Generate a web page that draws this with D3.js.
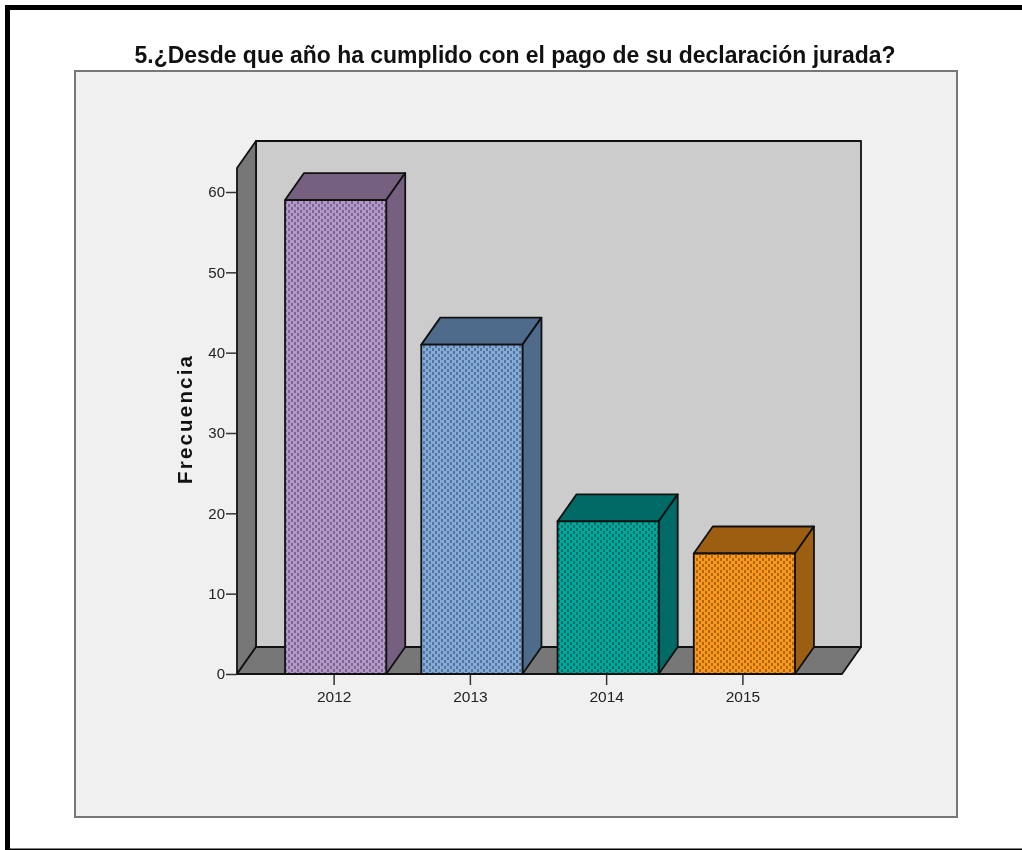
<!DOCTYPE html>
<html>
<head>
<meta charset="utf-8">
<script src="https://cdn.jsdelivr.net/npm/d3@7"></script>
<style>
  html, body { margin: 0; padding: 0; background: #fff; }
  svg { display: block; filter: blur(0.4px); }
  text { font-family: "Liberation Sans", Arial, sans-serif; }
</style>
</head>
<body>
<div id="chart"></div>
<script>
const titleText = '5.¿Desde que año ha cumplido con el pago de su declaración jurada?';
const yLabel = 'Frecuencia';
const years = ['2012', '2013', '2014', '2015'];
const counts = [59, 41, 19, 15];
const yTicks = [0, 10, 20, 30, 40, 50, 60];
const frontColors = ['#b598cb', '#82abdc', '#00a79c', '#fb981c'];
const sideColors = ['#75607f', '#4f6b8c', '#006a66', '#9c5f12'];

const width = 1022;
const height = 850;
const depthX = 19;
const depthY = -27;

const svg = d3.select('#chart').append('svg')
  .attr('width', width)
  .attr('height', height);

// dotted fill on the bar fronts
const defs = svg.append('defs');
frontColors.forEach((c, i) => {
  const p = defs.append('pattern')
    .attr('id', 'dots' + i)
    .attr('patternUnits', 'userSpaceOnUse')
    .attr('width', 6)
    .attr('height', 6);
  p.append('rect').attr('width', 6).attr('height', 6).attr('fill', c);
  const dark = d3.color(c).darker(1.1).formatHex();
  p.append('rect').attr('x', 0).attr('y', 0).attr('width', 2).attr('height', 3).attr('fill', dark);
  p.append('rect').attr('x', 3).attr('y', 3).attr('width', 2).attr('height', 3).attr('fill', dark);
});

// page frame
svg.append('path')
  .attr('d', `M7.5,${height} V7.5 H${width}`)
  .attr('fill', 'none')
  .attr('stroke', '#000')
  .attr('stroke-width', 5);
svg.append('line')
  .attr('x1', 5).attr('x2', width)
  .attr('y1', 849.5).attr('y2', 849.5)
  .attr('stroke', '#000')
  .attr('stroke-width', 2);

// chart panel
svg.append('rect')
  .attr('x', 75).attr('y', 71)
  .attr('width', 882).attr('height', 746)
  .attr('fill', '#f0f0f0')
  .attr('stroke', '#777')
  .attr('stroke-width', 2);

svg.append('text')
  .attr('x', 515).attr('y', 63)
  .attr('text-anchor', 'middle')
  .attr('font-size', 24)
  .attr('font-weight', 'bold')
  .attr('textLength', 761)
  .attr('lengthAdjust', 'spacingAndGlyphs')
  .attr('fill', '#111')
  .text(titleText);

const y = d3.scaleLinear().domain([0, 60]).range([674, 192]);
const x = d3.scaleBand()
  .domain(years)
  .range([267.5, 812.5])
  .paddingInner(35 / 136)
  .paddingOuter(17.5 / 136);

const left = 237;
const right = 842;
const base = y(0);
const wallTop = 168;
const edge = '#111';

// 3d box: back wall, left wall, floor
const box = svg.append('g').attr('stroke', edge).attr('stroke-width', 1.8).attr('stroke-linejoin', 'round');
box.append('rect')
  .attr('x', left + depthX).attr('y', wallTop + depthY)
  .attr('width', right - left).attr('height', base - wallTop)
  .attr('fill', '#cccccc');
box.append('path')
  .attr('d', `M${left},${base} V${wallTop} L${left + depthX},${wallTop + depthY} V${base + depthY} Z`)
  .attr('fill', '#777777');
box.append('path')
  .attr('d', `M${left},${base} L${left + depthX},${base + depthY} H${right + depthX} L${right},${base} Z`)
  .attr('fill', '#777777');

// bars
const bars = svg.selectAll('g.bar')
  .data(years.map((year, i) => ({ year, count: counts[i], i })))
  .join('g')
  .attr('class', 'bar')
  .attr('stroke', edge)
  .attr('stroke-width', 1.8)
  .attr('stroke-linejoin', 'round');

bars.append('path')
  .attr('d', d => {
    const x0 = x(d.year), x1 = x0 + x.bandwidth(), t = y(d.count);
    return `M${x0},${t} L${x0 + depthX},${t + depthY} H${x1 + depthX} L${x1},${t} Z`;
  })
  .attr('fill', d => sideColors[d.i]);
bars.append('path')
  .attr('d', d => {
    const x1 = x(d.year) + x.bandwidth(), t = y(d.count);
    return `M${x1},${t} L${x1 + depthX},${t + depthY} V${base + depthY} L${x1},${base} Z`;
  })
  .attr('fill', d => sideColors[d.i]);
bars.append('rect')
  .attr('x', d => x(d.year))
  .attr('y', d => y(d.count))
  .attr('width', x.bandwidth())
  .attr('height', d => base - y(d.count))
  .attr('fill', d => `url(#dots${d.i})`);

// axes
const yAxis = d3.axisLeft(y).tickValues(yTicks).tickSize(11).tickPadding(1);
const gy = svg.append('g').attr('transform', `translate(${left},0)`).call(yAxis);
gy.select('.domain').remove();
gy.selectAll('line').attr('stroke', '#333').attr('stroke-width', 1.5);
gy.selectAll('text').attr('font-size', 15).attr('fill', '#222');

const xAxis = d3.axisBottom(x).tickSize(11).tickPadding(6);
const gx = svg.append('g').attr('transform', `translate(-1.5,${base})`).call(xAxis);
gx.select('.domain').remove();
gx.selectAll('line').attr('stroke', '#333').attr('stroke-width', 1.5);
gx.selectAll('text').attr('font-size', 15.5).attr('fill', '#222');

// baseline on top of the bars
svg.append('line')
  .attr('x1', left).attr('x2', right)
  .attr('y1', base).attr('y2', base)
  .attr('stroke', edge)
  .attr('stroke-width', 2);

svg.append('text')
  .attr('transform', 'translate(192,420) rotate(-90)')
  .attr('text-anchor', 'middle')
  .attr('font-size', 20.5)
  .attr('font-weight', 'bold')
  .attr('textLength', 128)
  .attr('fill', '#111')
  .text(yLabel);
</script>
</body>
</html>
